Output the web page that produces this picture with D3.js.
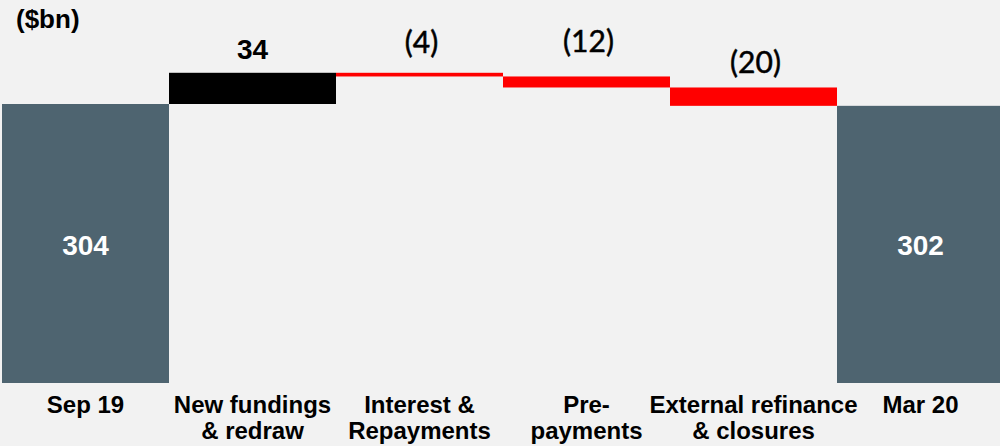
<!DOCTYPE html>
<html>
<head>
<meta charset="utf-8">
<script src="https://cdn.jsdelivr.net/npm/d3@7"></script>
<style>
  html, body { margin: 0; padding: 0; background: #f2f2f2; }
  svg { display: block; }
</style>
</head>
<body>
<svg id="chart" width="1000" height="446"></svg>
<script>
// ---- data ----
const categories = ["Sep 19", "New fundings & redraw", "Interest & Repayments", "Pre-payments", "External refinance & closures", "Mar 20"];
const categoryLines = [["Sep 19"], ["New fundings", "& redraw"], ["Interest &", "Repayments"], ["Pre-", "payments"], ["External refinance", "& closures"], ["Mar 20"]];
const values = [304, 34, -4, -12, -20, 302];
const kinds = ["total", "increase", "decrease", "decrease", "decrease", "total"];
const valueLabels = ["304", "34", "(4)", "(12)", "(20)", "302"];
const unitLabel = "($bn)";

// ---- layout ----
const W = 1000, H = 446;
const svg = d3.select("#chart");
svg.append("rect").attr("width", W).attr("height", H).attr("fill", "#f2f2f2");

const x = d3.scaleBand().domain(categories).range([2, 1004]).paddingInner(0).paddingOuter(0);
const y = d3.scaleLinear().domain([0, 304]).range([383, 104]);

// compute waterfall segments
let running = 0;
const segs = categories.map((c, i) => {
  let lo, hi;
  if (kinds[i] === "total") { lo = 0; hi = values[i]; running = values[i]; }
  else { const from = running; running += values[i]; lo = Math.min(from, running); hi = Math.max(from, running); }
  return { c, i, lo, hi, kind: kinds[i], label: valueLabels[i] };
});

const colors = { total: "#4e6470", increase: "#000000", decrease: "#ff0000" };

svg.append("g").selectAll("rect").data(segs).join("rect")
  .attr("x", d => x(d.c))
  .attr("width", x.bandwidth())
  .attr("y", d => y(d.hi))
  .attr("height", d => y(d.lo) - y(d.hi))
  .attr("fill", d => colors[d.kind]);

// total labels inside bars
svg.append("g").selectAll("text").data(segs.filter(d => d.kind === "total")).join("text")
  .attr("x", d => x(d.c) + x.bandwidth() / 2)
  .attr("y", d => (y(d.hi) + y(d.lo)) / 2 + 11)
  .attr("text-anchor", "middle")
  .attr("font-family", "Liberation Sans, Arial, sans-serif")
  .attr("font-weight", "bold")
  .attr("font-size", 28)
  .attr("fill", "#ffffff")
  .text(d => d.label);

// step labels above bars
const labelGap = { increase: 14 };
const decGaps = [20, 24, 14];
let di = 0;
svg.append("g").selectAll("text").data(segs.filter(d => d.kind !== "total")).join("text")
  .attr("x", d => x(d.c) + x.bandwidth() / 2 + (d.kind === "increase" ? 0 : 2))
  .attr("y", d => y(d.hi) - (d.kind === "increase" ? labelGap.increase : decGaps[di++]))
  .attr("text-anchor", "middle")
  .attr("font-family", d => d.kind === "increase" ? "Liberation Sans, Arial, sans-serif" : "Lato, Carlito, sans-serif")
  .attr("font-weight", d => d.kind === "increase" ? "bold" : "normal")
  .attr("font-size", d => d.kind === "increase" ? 28 : 30)
  .attr("stroke", d => d.kind === "increase" ? "none" : "#000")
  .attr("stroke-width", 0.5)
  .attr("fill", "#000")
  .text(d => d.label);

// category labels
const cat = svg.append("g").selectAll("text").data(categories).join("text")
  .attr("x", d => x(d) + x.bandwidth() / 2)
  .attr("y", 413)
  .attr("text-anchor", "middle")
  .attr("font-family", "Liberation Sans, Arial, sans-serif")
  .attr("font-weight", "bold")
  .attr("font-size", 24)
  .attr("fill", "#000");
cat.each(function(d, i) {
  const t = d3.select(this);
  categoryLines[i].forEach((line, k) => {
    t.append("tspan").attr("x", x(d) + x.bandwidth() / 2).attr("dy", k === 0 ? 0 : 26).text(line);
  });
});

// unit label
svg.append("text")
  .attr("x", 16).attr("y", 28)
  .attr("font-family", "Liberation Sans, Arial, sans-serif")
  .attr("font-weight", "bold")
  .attr("font-size", 26)
  .attr("fill", "#000")
  .text(unitLabel);
</script>
</body>
</html>
